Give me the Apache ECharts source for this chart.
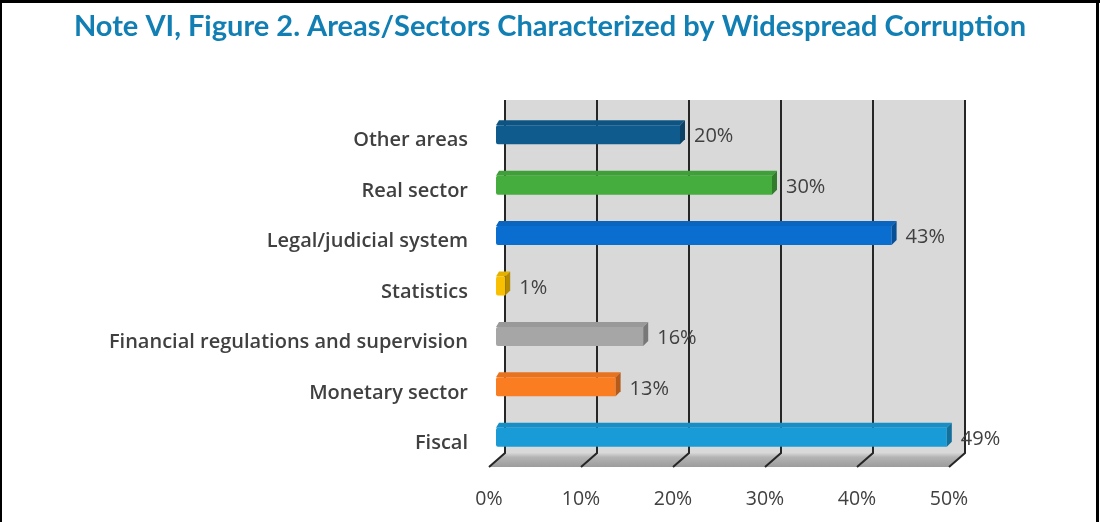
<!DOCTYPE html>
<html>
<head>
<meta charset="utf-8">
<script src="https://cdn.jsdelivr.net/npm/echarts@6/dist/echarts.min.js"></script>
<style>
  html, body { margin: 0; padding: 0; background: #fff; }
  #chart { width: 1100px; height: 522px; }
</style>
</head>
<body>
<div id="chart"></div>
<script>
// categories top to bottom, values in percent
const categories = ['Other areas', 'Real sector', 'Legal/judicial system', 'Statistics',
  'Financial regulations and supervision', 'Monetary sector', 'Fiscal']
const values = [20, 30, 43, 1, 16, 13, 49]
const barColors = ['#0f5b8e', '#45ad3d', '#0a6ed1', '#f8c000', '#a6a6a6', '#fb7d22', '#199bd7']
const tickValues = [0, 10, 20, 30, 40, 50]

const textColor = '#404040'
const gridColor = '#262626'
// depth offsets of the 3d look
const floorDx = -16, floorDy = 14
const barDx = -9, barDy = 0
const faceH = 19, topDx = 5, topDy = -5

function shade(hex, k) {
  const n = parseInt(hex.slice(1), 16)
  const r = Math.round(((n >> 16) & 255) * k)
  const g = Math.round(((n >> 8) & 255) * k)
  const b = Math.round((n & 255) * k)
  return 'rgb(' + r + ',' + g + ',' + b + ')'
}

const chart = echarts.init(document.getElementById('chart'))

chart.setOption({
  animation: false,
  title: {
    text: 'Note VI, Figure 2. Areas/Sectors Characterized by Widespread Corruption',
    left: 'center',
    top: 7,
    textStyle: { color: '#117fb3', fontFamily: 'Lato', fontWeight: 'bold', fontSize: 29 }
  },
  graphic: [
    // frame around the figure
    { type: 'line', shape: { x1: 0, y1: 1.5, x2: 1100, y2: 1.5 }, style: { stroke: '#000', lineWidth: 3 } },
    { type: 'line', shape: { x1: 1, y1: 0, x2: 1, y2: 522 }, style: { stroke: '#000', lineWidth: 2 } },
    { type: 'line', shape: { x1: 1097.5, y1: 0, x2: 1097.5, y2: 522 }, style: { stroke: '#000', lineWidth: 3 } }
  ],
  grid: {
    left: 505,
    right: 135,
    top: 100,
    bottom: 69,
    show: true,
    backgroundColor: '#d9d9d9',
    borderWidth: 0
  },
  xAxis: {
    type: 'value',
    min: 0,
    max: 50,
    interval: 10,
    axisLine: { show: false },
    axisTick: { show: false },
    splitLine: { show: true, lineStyle: { color: gridColor, width: 2 } },
    axisLabel: {
      margin: 36,
      padding: [0, 32, 0, 0],
      formatter: '{value}%',
      color: textColor,
      fontFamily: 'Open Sans',
      fontSize: 19.5
    }
  },
  yAxis: {
    type: 'category',
    inverse: true,
    data: categories,
    axisLine: { show: false },
    axisTick: { show: false },
    splitLine: { show: false },
    axisLabel: {
      margin: 37,
      verticalAlign: 'top',
      lineHeight: 31,
      color: textColor,
      fontFamily: 'Open Sans',
      fontWeight: 600,
      fontSize: 20
    }
  },
  series: [
    {
      // floor of the 3d plot with slanted tick lines
      type: 'custom',
      silent: true,
      z: 1,
      data: tickValues.map(function (t) { return [t, 0] }),
      renderItem: function (params, api) {
        const cs = params.coordSys
        const yb = cs.y + cs.height
        const x = api.coord([api.value(0), 0])[0]
        const children = []
        if (params.dataIndex === 0) {
          const xl = cs.x, xr = cs.x + cs.width
          children.push({
            type: 'polygon',
            shape: { points: [[xl, yb], [xr, yb], [xr + floorDx, yb + floorDy], [xl + floorDx, yb + floorDy]] },
            style: {
              fill: new echarts.graphic.LinearGradient(0, 0, 0, 1, [
                { offset: 0, color: '#d6d6d6' },
                { offset: 0.3, color: '#b4b4b4' },
                { offset: 1, color: '#9c9c9c' }
              ])
            }
          })
        }
        children.push({
          type: 'polyline',
          shape: { points: [[x, yb - 4], [x, yb], [x + floorDx, yb + floorDy]] },
          style: { stroke: gridColor, lineWidth: 2, fill: null }
        })
        return { type: 'group', children: children }
      }
    },
    {
      type: 'custom',
      z: 3,
      data: values.map(function (v, i) { return [v, i] }),
      renderItem: function (params, api) {
        const i = api.value(1)
        const v = api.value(0)
        const p0 = api.coord([0, i])
        const p1 = api.coord([v, i])
        const x0 = p0[0] + barDx
        const x1 = p1[0] + barDx
        const yt = p0[1] + barDy
        const yb = yt + faceH
        const c = barColors[i]
        return {
          type: 'group',
          children: [
            {
              type: 'polygon',
              shape: { points: [[x0, yt], [x1, yt], [x1 + topDx, yt + topDy], [x0 + topDx - 2, yt + topDy]] },
              style: { fill: shade(c, 0.92) }
            },
            {
              type: 'rect',
              shape: { x: x0, y: yt, width: x1 - x0, height: faceH, r: [2, 0, 0, 2] },
              style: { fill: c }
            },
            {
              type: 'polygon',
              shape: { points: [[x1, yt], [x1 + topDx, yt + topDy], [x1 + topDx, yb + topDy], [x1, yb]] },
              style: { fill: shade(c, 0.72) }
            },
            {
              type: 'text',
              style: {
                x: x1 + topDx + 9,
                y: yt + faceH / 2 + 2,
                text: v + '%',
                fill: textColor,
                font: '20px "Open Sans"',
                verticalAlign: 'middle',
                align: 'left'
              }
            }
          ]
        }
      }
    }
  ]
})
</script>
</body>
</html>
